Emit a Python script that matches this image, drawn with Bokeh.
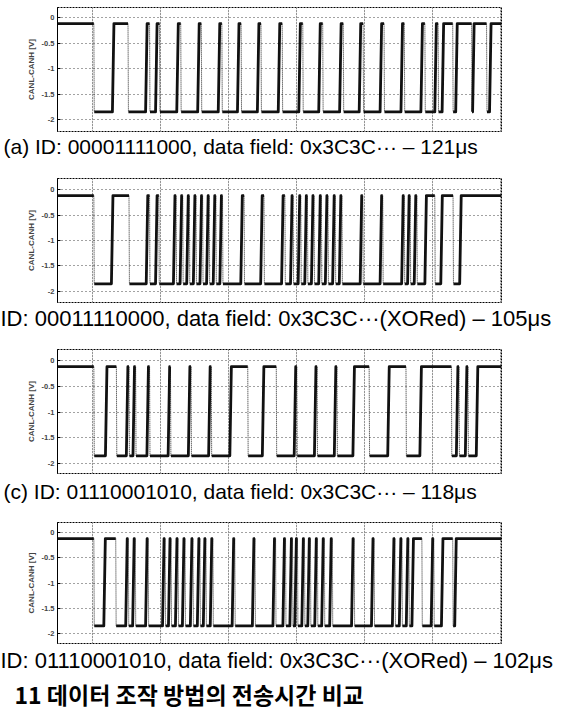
from bokeh.plotting import figure
from bokeh.models import Range1d, FixedTicker, Grid, Title
from bokeh.layouts import column
from bokeh.embed import file_html
from bokeh.resources import INLINE

# ---------------- data (time in µs, voltage in V) ----------------
x_start, x_end = -10.3, 120.3
x_grid_ticks = [0, 20, 40, 60, 80, 100, 120]
y_ticks = [0, -0.5, -1, -1.5, -2]
y_tick_labels = ["0", "-0.5", "-1", "-1.5", "-2"]
y_label = "CANL-CANH [V]"

recessive_level = -0.12
dominant_level = -1.85
rise_time = 0.45
fall_time = 0.12

# toggle times of the bus level (starts recessive/high)
edges_a = [0.39, 5.85, 10.44, 15.61, 16.78, 18.54, 19.71, 24.78, 25.95, 30.93, 32.0,
           36.98, 38.05, 42.63, 43.71, 48.49, 49.56, 54.63, 55.80, 60.68, 61.85, 66.54,
           67.71, 72.68, 73.76, 78.44, 79.61, 84.59, 85.76, 90.73, 91.71, 96.59, 97.76,
           100.68, 101.66, 102.83, 105.95, 106.83, 111.51, 111.80, 115.90, 116.78]
edges_b = [0.39, 5.56, 10.73, 15.80, 16.78, 18.54, 19.51, 23.80, 24.59, 25.76, 26.54,
           27.71, 28.49, 29.66, 30.44, 31.61, 32.39, 33.56, 34.34, 35.51, 36.29, 37.46,
           38.24, 43.61, 44.59, 49.46, 50.44, 55.61, 56.59, 58.24, 59.02, 60.49, 61.27,
           62.44, 63.22, 64.39, 65.17, 66.54, 67.32, 68.49, 69.27, 70.63, 71.41, 72.59,
           73.37, 78.73, 79.51, 84.59, 85.37, 90.93, 91.71, 92.68, 93.46, 94.63, 95.41,
           97.76, 100.68, 102.44, 106.05, 108.0]
edges_c = [0.39, 3.80, 7.02, 9.95, 10.73, 11.90, 12.68, 16.00, 16.78, 22.24, 22.93,
           28.19, 28.98, 34.15, 34.93, 40.39, 45.66, 49.95, 54.05, 59.32, 60.10, 65.27,
           66.05, 71.12, 71.90, 76.59, 81.37, 86.83, 92.20, 96.29, 105.56, 107.02,
           107.80, 109.66, 110.44, 112.88]
edges_d = [0.39, 3.32, 6.83, 9.76, 10.54, 11.80, 12.59, 15.61, 16.39, 20.59, 21.37,
           22.34, 23.12, 24.39, 25.17, 26.44, 27.22, 28.78, 29.56, 30.83, 31.61, 32.59,
           33.37, 34.63, 35.41, 41.07, 41.85, 47.02, 47.80, 53.07, 53.85, 56.0, 56.78,
           58.05, 58.83, 59.51, 60.29, 61.56, 62.34, 63.32, 64.10, 65.37, 66.15, 67.41,
           68.19, 69.76, 70.54, 76.19, 76.98, 82.05, 82.83, 88.20, 88.98, 90.24, 91.02,
           92.29, 93.07, 93.95, 96.88, 99.61, 100.39, 102.63, 105.95, 106.54]

captions = [
    "(a) ID: 00001111000, data field: 0x3C3C··· – 121μs",
    "ID: 00011110000, data field: 0x3C3C···(XORed) – 105μs",
    "(c) ID: 01110001010, data field: 0x3C3C··· – 118μs",
    "ID: 01110001010, data field: 0x3C3C···(XORed) – 102μs",
]
fig_caption = "11 데이터 조작 방법의 전송시간 비교"

# ---------------- layout settings ----------------
W = 566
y_ranges = [(-2.235, 0.196), (-2.216, 0.216), (-2.194, 0.214), (-2.198, 0.198)]
fig_heights = [172, 170, 173, 198]
tops = [7, 6, 7, 7]
bottoms = [41, 40, 42, 70]
caption_sizes = ["21px", "22px", "21px", "22px"]
caption_offsets = [-54, -57, -54, -57]
caption_standoffs = [2, 2, 8, 4]
FONT = "Liberation Sans"


def build_trace(edges):
    solid_xs, solid_ys = [], []
    fx0, fy0, fx1, fy1 = [], [], [], []
    level = recessive_level
    cx, cy = [x_start], [level]
    for t in edges:
        if level == recessive_level:
            cx.append(t); cy.append(recessive_level)
            solid_xs.append(cx); solid_ys.append(cy)
            fx0.append(t); fy0.append(recessive_level)
            fx1.append(t + fall_time); fy1.append(dominant_level)
            cx, cy = [t + fall_time], [dominant_level]
            level = dominant_level
        else:
            cx += [t, t + rise_time]; cy += [dominant_level, recessive_level]
            level = recessive_level
    cx.append(x_end); cy.append(level)
    solid_xs.append(cx); solid_ys.append(cy)
    return solid_xs, solid_ys, (fx0, fy0, fx1, fy1)


def make_panel(i, edges):
    p = figure(width=W, height=fig_heights[i], output_backend="svg", toolbar_location=None,
               x_range=Range1d(x_start, x_end), y_range=Range1d(*y_ranges[i]),
               x_axis_location=None, min_border_left=57, min_border_right=65,
               min_border_top=tops[i], min_border_bottom=bottoms[i],
               background_fill_color="white", border_fill_color="white")
    p.outline_line_color = "black"
    p.outline_line_width = 1
    p.outline_line_dash = "2 1"

    ax = p.yaxis[0]
    ax.ticker = FixedTicker(ticks=y_ticks)
    ax.major_label_overrides = {t: s for t, s in zip(y_ticks, y_tick_labels)}
    ax.axis_label = y_label
    ax.axis_label_text_font = FONT
    ax.axis_label_text_font_size = "8px"
    ax.axis_label_text_font_style = "bold"
    ax.axis_label_standoff = 3
    ax.major_label_text_font = FONT
    ax.major_label_text_font_size = "7.5px"
    ax.major_label_text_font_style = "bold"
    ax.major_label_standoff = 3
    ax.major_tick_in = 3
    ax.major_tick_out = 0
    ax.minor_tick_line_color = None
    ax.axis_line_color = "black"

    p.ygrid.ticker = FixedTicker(ticks=y_ticks)
    p.ygrid.grid_line_color = "#444444"
    p.ygrid.grid_line_dash = "1 3"
    p.ygrid.grid_line_width = 1
    xg = Grid(dimension=0, ticker=FixedTicker(ticks=x_grid_ticks),
              grid_line_color="#444444", grid_line_dash="1 2", grid_line_width=1)
    p.add_layout(xg)

    sx, sy, (fx0, fy0, fx1, fy1) = build_trace(edges)
    p.segment(fx0, fy0, fx1, fy1, line_color="#222222", line_width=1, line_dash="1 1")
    p.multi_line(sx, sy, line_color="#111111", line_width=2.8, line_join="round")

    p.add_layout(Title(text=captions[i], align="left", offset=caption_offsets[i],
                       standoff=caption_standoffs[i], text_font=FONT,
                       text_font_size=caption_sizes[i], text_font_style="normal",
                       text_color="black"), "below")
    return p


panels = [make_panel(i, e) for i, e in enumerate([edges_a, edges_b, edges_c, edges_d])]
panels[3].add_layout(Title(text=fig_caption, align="left", offset=-43, standoff=0,
                           text_font="Noto Sans CJK KR", text_font_size="23px",
                           text_font_style="bold", text_color="black"), "below")

layout = column(*panels, spacing=0)
open("out.html", "w").write(file_html(layout, INLINE))
